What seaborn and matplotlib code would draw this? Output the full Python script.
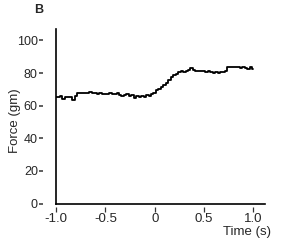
import numpy as np
import pandas as pd
import matplotlib
matplotlib.use("Agg")
import matplotlib.pyplot as plt
import seaborn as sns

# Data
time_s = np.linspace(-1.0, 1.0, 81)
force_gm = [65.5, 65, 66, 64, 65.5, 65, 65.5, 63.5, 66, 67.5,
            67.5, 68, 67.5, 68, 68.5, 68, 67.5, 67, 67.5, 67,
            67, 67, 67.5, 67, 67, 67.5, 66.5, 66, 66.5, 67,
            66, 66.5, 64.5, 66, 65.5, 66, 65.5, 66.5, 66, 67,
            68, 69.5, 70, 71.5, 72.5, 74, 76, 77.5, 79, 79.5,
            80.5, 81, 80.5, 81.5, 82, 83, 82, 81.5, 81, 81,
            81, 80.5, 81, 80.5, 80, 80.5, 80, 80.5, 80.5, 81,
            83.5, 84, 83.5, 83.5, 84, 83, 83.5, 83, 82.5, 83.5, 82.5]
x_ticks = [-1.0, -0.5, 0.0, 0.5, 1.0]
x_ticklabels = ["-1.0", "-0.5", "0", "0.5", "1.0"]
y_ticks = [0, 20, 40, 60, 80, 100]
y_ticklabels = ["0", "20", "40", "60", "80", "100"]

df = pd.DataFrame({"Time (s)": time_s, "Force (gm)": force_gm})

sns.set_style("white")
plt.rcParams['font.family'] = ['Liberation Sans', 'DejaVu Sans']
txt = '#262626'
tickc = '#333333'

fig = plt.figure(figsize=(3.0, 2.5), dpi=100)
ax = fig.add_axes([0.187, 0.186, 0.697, 0.698])

sns.lineplot(data=df, x="Time (s)", y="Force (gm)", ax=ax, color='black',
             linewidth=1.3, drawstyle='steps-mid')

ax.set_xlim(-1.0, 1.12)
ax.set_ylim(0, 107)
sns.despine(ax=ax)
for s in ['left', 'bottom']:
    ax.spines[s].set_color('black')
    ax.spines[s].set_linewidth(1.2)

# main axis: no ticks, labels shown on detached secondary axes
ax.set_xticks(x_ticks)
ax.set_yticks(y_ticks)
ax.tick_params(axis='both', length=0, labelbottom=False, labelleft=False)
ax.set_xlabel("")
ax.set_ylabel("")

secx = ax.secondary_xaxis(-0.02)
secx.spines['bottom'].set_visible(False)
secx.set_xticks(x_ticks)
secx.set_xticklabels(x_ticklabels, fontsize=9.5, color=txt)
secx.tick_params(axis='x', direction='out', length=3.6, width=0.9, pad=1,
                 color=tickc)

secy = ax.secondary_yaxis(-0.062)
secy.spines['left'].set_visible(False)
secy.set_yticks(y_ticks)
secy.set_yticklabels(y_ticklabels, fontsize=9, color=txt)
secy.tick_params(axis='y', direction='out', length=3, width=1.1, pad=0.8,
                 color=tickc)

fig.text(271 / 300, 1 - 226 / 250, "Time (s)", fontsize=9.5, color=txt,
         ha='right', va='top')
fig.text(15 / 300, 1 - 121 / 250, "Force (gm)", fontsize=9.5, color=txt,
         ha='center', va='center', rotation=90)
fig.text(39 / 300, 1 - 10.3 / 250, "B", fontsize=9, fontweight='bold',
         color=txt, ha='center', va='center')

fig.savefig("out.png", dpi=100)
